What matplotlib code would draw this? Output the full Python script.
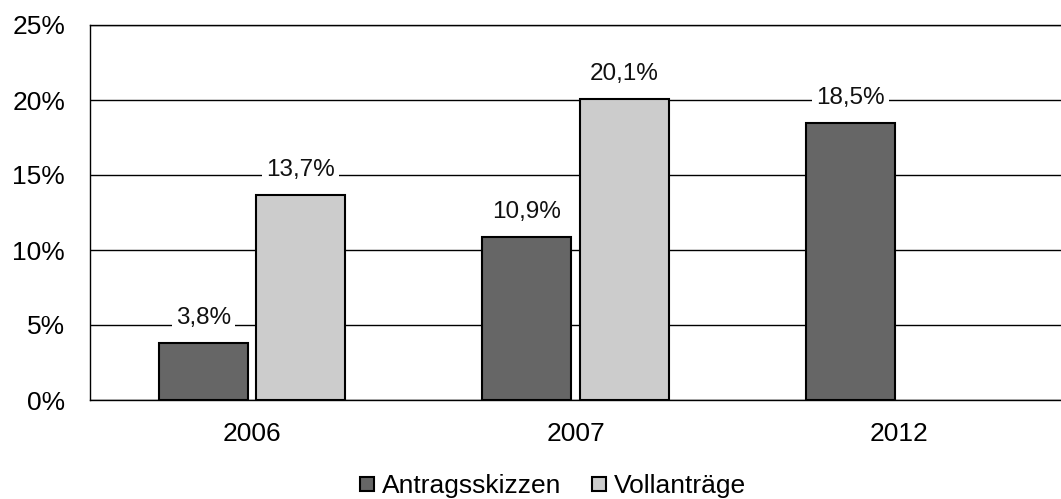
import matplotlib
matplotlib.use("Agg")
import matplotlib.pyplot as plt
import numpy as np
from matplotlib.lines import Line2D

plt.rcParams['font.family'] = ['Liberation Sans', 'DejaVu Sans']

years = ['2006', '2007', '2012']
antragsskizzen = [3.8, 10.9, 18.5]
vollantraege = [13.7, 20.1, None]
series_names = ['Antragsskizzen', 'Vollanträge']
colors = ['#666666', '#cccccc']
yticks = [0, 5, 10, 15, 20, 25]

fig = plt.figure(figsize=(10.61, 4.99), dpi=100)
ax = fig.add_axes([90/1061, 99/499, 971/1061, 375/499])

x = np.arange(len(years))
w = 0.275
gap = 0.025
off = w/2 + gap/2

def fmt(v):
    return f"{v:.1f}".replace('.', ',') + '%'

for i, (vals, c) in enumerate(zip([antragsskizzen, vollantraege], colors)):
    xs = [xi + (-off if i == 0 else off) for xi, v in zip(x, vals) if v is not None]
    vs = [v for v in vals if v is not None]
    ax.bar(xs, vs, width=w, color=c, edgecolor='black', linewidth=1.5, zorder=3)
    for xi, v in zip(xs, vs):
        ax.text(xi, v + 1.65, fmt(v), ha='center', va='center', fontsize=17.5,
                color='#111111', zorder=4,
                bbox=dict(facecolor='white', edgecolor='none', pad=3))

ax.set_xlim(-0.5, 2.5)
ax.set_ylim(0, 25)
ax.set_yticks(yticks)
ax.set_yticklabels([f"{t}%" for t in yticks], fontsize=19)
ax.set_xticks(x)
ax.set_xticklabels(years, fontsize=19)
ax.tick_params(axis='y', length=0, pad=18)
ax.tick_params(axis='x', length=0, pad=16)
ax.yaxis.grid(True, color='black', linewidth=1.0, zorder=0)
ax.set_axisbelow(True)
ax.spines['right'].set_visible(False)
ax.spines['top'].set_linewidth(1.0)
ax.spines['left'].set_linewidth(1.0)
ax.spines['bottom'].set_linewidth(1.0)

handles = [Line2D([], [], marker='s', linestyle='none', markersize=10,
                  markerfacecolor=c, markeredgecolor='black', markeredgewidth=1.5)
           for c in colors]
fig.legend(handles, series_names, loc='center', bbox_to_anchor=(552/1061, 1 - 486/499),
           ncol=2, frameon=False, fontsize=19, handletextpad=0.2,
           columnspacing=1.1, handlelength=0.7)

fig.savefig('out.png', dpi=100)
